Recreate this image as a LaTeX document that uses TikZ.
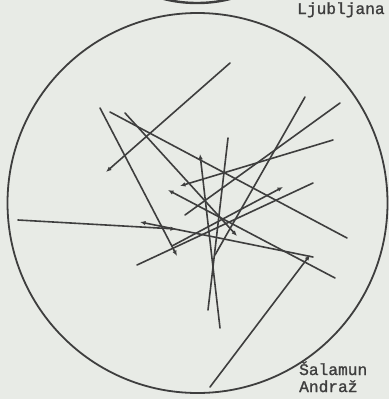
\documentclass[tikz,border=0pt]{standalone}
\usepackage{fontspec}
\newfontfamily\typew[FakeBold=1.3]{Liberation Mono}
\usetikzlibrary{arrows.meta}
\definecolor{paper}{HTML}{E8EBE6}
\definecolor{ink}{HTML}{3E3E3E}
\begin{document}
\begin{tikzpicture}[x=1pt,y=-1pt,
  ln/.style={draw=ink,line width=1.6pt,line cap=round},
  ar/.style={ln,-{Latex[length=5.5pt,width=4.5pt]}},
  lbl/.style={font=\typew\fontsize{16.2}{18}\selectfont,text=ink,inner sep=0pt,anchor=base west,align=left}]
\fill[paper] (0,0) rectangle (389,399);
\useasboundingbox (0,0) rectangle (389,399);
\begin{scope}
\clip (0,0) rectangle (389,399);
\draw[ink,line width=2.4pt] (197,-40) ellipse [x radius=78, y radius=43];
\end{scope}
\draw[ink,line width=1.8pt] (197.5,203) circle [radius=190];
\node[lbl] (lj) at (297,14) {Ljubljana};
\node[lbl] (sa) at (299,375) {Šalamun};
\node[lbl] (an) at (299,392) {Andraž};
% endpoints
\coordinate (a1) at (230,63);  \coordinate (a2) at (106,172);
\coordinate (b1) at (100,108); \coordinate (b2) at (177,256);
\coordinate (c1) at (110,112); \coordinate (c2) at (347,238);
\coordinate (d1) at (125,113); \coordinate (d2) at (237,236);
\coordinate (e1) at (18,220);  \coordinate (e2) at (176,229);
\coordinate (f1) at (313,257); \coordinate (f2) at (140,222);
\coordinate (g1) at (137,265); \coordinate (g2) at (313,183);
\coordinate (h1) at (172,246); \coordinate (h2) at (283,187);
\coordinate (i1) at (220,328); \coordinate (i2) at (200,154);
\coordinate (j1) at (228,138); \coordinate (j2) at (208,310);
\coordinate (k1) at (305,97);  \coordinate (k2) at (215,255);
\coordinate (l1) at (340,103); \coordinate (l2) at (185,215);
\coordinate (m1) at (333,140); \coordinate (m2) at (180,186);
\coordinate (n1) at (210,387); \coordinate (n2) at (310,255);
\coordinate (o1) at (335,278); \coordinate (o2) at (168,190);
\draw[ar] (a1) -- (a2);
\draw[ar] (b1) -- (b2);
\draw[ln] (c1) -- (c2);
\draw[ar] (d1) -- (d2);
\draw[ar] (e1) -- (e2);
\draw[ar] (f1) -- (f2);
\draw[ln] (g1) -- (g2);
\draw[ar] (h1) -- (h2);
\draw[ar] (i1) -- (i2);
\draw[ln] (j1) -- (j2);
\draw[ln] (k1) -- (k2);
\draw[ln] (l1) -- (l2);
\draw[ar] (m1) -- (m2);
\draw[ar] (n1) -- (n2);
\draw[ar] (o1) -- (o2);
\end{tikzpicture}
\end{document}
